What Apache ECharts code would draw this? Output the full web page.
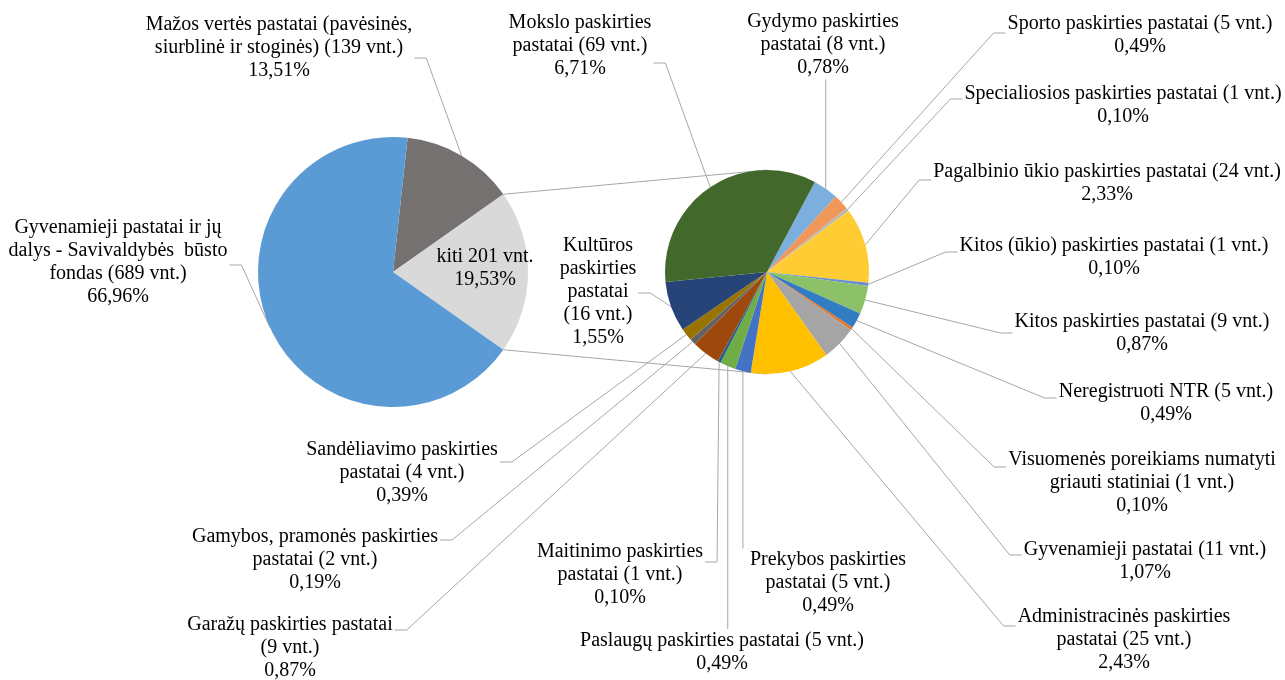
<!DOCTYPE html>
<html>
<head>
<meta charset="utf-8">
<script src="https://cdn.jsdelivr.net/npm/echarts@6/dist/echarts.min.js"></script>
<style>
  html, body { margin: 0; padding: 0; background: #fff; }
  #main { width: 1285px; height: 680px; }
</style>
</head>
<body>
<div id="main"></div>
<script>
// pagrindinis skritulys
var mainNames = [
  'Mažos vertės pastatai (pavėsinės,\nsiurblinė ir stoginės) ({n} vnt.)',
  'kiti {n} vnt.',
  'Gyvenamieji pastatai ir jų\ndalys - Savivaldybės  būsto\nfondas ({n} vnt.)'
];
var mainValues = [139, 201, 689];
var mainColors = ['#767171', '#D9D9D9', '#5B9BD5'];

// "kiti" išskaidymas (antras skritulys)
var otherNames = [
  'Gydymo paskirties\npastatai ({n} vnt.)',
  'Sporto paskirties pastatai ({n} vnt.)',
  'Specialiosios paskirties pastatai ({n} vnt.)',
  'Pagalbinio ūkio paskirties pastatai ({n} vnt.)',
  'Kitos (ūkio) paskirties pastatai ({n} vnt.)',
  'Kitos paskirties pastatai ({n} vnt.)',
  'Neregistruoti NTR ({n} vnt.)',
  'Visuomenės poreikiams numatyti\ngriauti statiniai ({n} vnt.)',
  'Gyvenamieji pastatai ({n} vnt.)',
  'Administracinės paskirties\npastatai ({n} vnt.)',
  'Prekybos paskirties\npastatai ({n} vnt.)',
  'Paslaugų paskirties pastatai ({n} vnt.)',
  'Maitinimo paskirties\npastatai ({n} vnt.)',
  'Garažų paskirties pastatai\n({n} vnt.)',
  'Gamybos, pramonės paskirties\npastatai ({n} vnt.)',
  'Sandėliavimo paskirties\npastatai ({n} vnt.)',
  'Kultūros\npaskirties\npastatai\n({n} vnt.)',
  'Mokslo paskirties\npastatai ({n} vnt.)'
];
var otherValues = [8, 5, 1, 24, 1, 9, 5, 1, 11, 25, 5, 5, 1, 9, 2, 4, 16, 69];
var otherColors = ['#7CAFDD', '#F1975A', '#B7B7B7', '#FFCD33', '#698ED0', '#8CC168',
  '#327DC2', '#E5762A', '#A5A5A5', '#FFC000', '#4472C4', '#70AD47',
  '#255E91', '#9E480E', '#636363', '#997300', '#264478', '#43682B'];

// etikečių vietos: [x, y, pusė, linijos dy]
var mainLabelPos = [[279, 48, 'r', 10], [485, 268, 'in', 0], [118, 262, 'r', 3]];
var otherLabelPos = [
  [823, 45, 'b', 0], [1140, 35, 'l', -2], [1123, 105, 'l', -6], [1107, 183, 'l', -3],
  [1114, 257, 'l', -5], [1142, 333, 'l', 0], [1166, 403, 'l', -5], [1142, 483, 'l', -16],
  [1145, 561, 'l', -6], [1124, 640, 'l', -14], [828, 583, 't', 0], [722, 652, 't', 0],
  [620, 575, 'r', -13], [290, 648, 'r', -18], [315, 560, 'r', -20], [402, 473, 'r', -11],
  [598, 292, 'r', 1], [580, 46, 'r', 17]
];

var total = mainValues.reduce(function (a, b) { return a + b; }, 0);
var leftC = [393, 272], leftR = 135;
var rightC = [767, 272], rightR = 102;
// "kiti" dalis centruojama ties 3 val.
var leftStart = (mainValues[0] + mainValues[1] / 2) / total * 360;
var rightStart = 62;

function pct(v) {
  return (v / total * 100).toFixed(2).replace('.', ',') + '%';
}

function items(names, values, colors) {
  return values.map(function (v, i) {
    return { name: names[i].replace('{n}', v), value: v, itemStyle: { color: colors[i] } };
  });
}

function layoutFor(pos) {
  return function (p) {
    var c = pos[p.dataIndex];
    var res = { x: c[0], y: c[1], align: 'center', verticalAlign: 'middle' };
    if (c[2] === 'in' || !p.labelLinePoints) return res;
    var a = p.labelLinePoints[0];
    var w = p.labelRect.width, h = p.labelRect.height;
    var left = c[0] - w / 2, right = c[0] + w / 2, top = c[1] - h / 2, bottom = c[1] + h / 2;
    var y = c[1] + c[3];
    var pts;
    if (c[2] === 'l') pts = [a, [left - 14, y], [left - 2, y]];
    else if (c[2] === 'r') pts = [a, [right + 14, y], [right + 2, y]];
    else if (c[2] === 't') pts = [a, [a[0], top], [a[0], top]];
    else pts = [a, [a[0], bottom], [a[0], bottom]];
    res.labelLinePoints = pts;
    return res;
  };
}

var labelStyle = {
  show: true,
  position: 'outside',
  fontFamily: 'Liberation Serif',
  fontSize: 20,
  lineHeight: 23,
  color: '#000'
};
var lineStyle = { show: true, length: 10, length2: 10, lineStyle: { color: '#A6A6A6', width: 1 } };

var mainData = items(mainNames, mainValues, mainColors);
mainData[1].labelLine = { show: false };

var myChart = echarts.init(document.getElementById('main'));

// jungiamosios linijos tarp skritulių
var a1 = (-leftStart + mainValues[0] / total * 360) * Math.PI / 180;
var a2 = a1 + mainValues[1] / total * 360 * Math.PI / 180;
var p1 = [leftC[0] + leftR * Math.cos(a1), leftC[1] + leftR * Math.sin(a1)];
var p2 = [leftC[0] + leftR * Math.cos(a2), leftC[1] + leftR * Math.sin(a2)];

var option = {
  animation: false,
  graphic: [
    { type: 'line', z: 0, shape: { x1: p1[0], y1: p1[1], x2: rightC[0], y2: rightC[1] - rightR }, style: { stroke: '#A6A6A6', lineWidth: 1 } },
    { type: 'line', z: 0, shape: { x1: p2[0], y1: p2[1], x2: rightC[0], y2: rightC[1] + rightR }, style: { stroke: '#A6A6A6', lineWidth: 1 } }
  ],
  series: [
    {
      type: 'pie',
      center: leftC,
      radius: leftR,
      startAngle: leftStart,
      clockwise: true,
      avoidLabelOverlap: false,
      z: 3,
      label: Object.assign({}, labelStyle, {
        formatter: function (p) { return mainNames[p.dataIndex].replace('{n}', p.value) + '\n' + pct(p.value); }
      }),
      labelLine: lineStyle,
      labelLayout: layoutFor(mainLabelPos),
      emphasis: { disabled: true },
      data: mainData
    },
    {
      type: 'pie',
      center: rightC,
      radius: rightR,
      startAngle: rightStart,
      clockwise: true,
      avoidLabelOverlap: false,
      z: 3,
      label: Object.assign({}, labelStyle, {
        formatter: function (p) { return otherNames[p.dataIndex].replace('{n}', p.value) + '\n' + pct(p.value); }
      }),
      labelLine: lineStyle,
      labelLayout: layoutFor(otherLabelPos),
      emphasis: { disabled: true },
      data: items(otherNames, otherValues, otherColors)
    }
  ]
};
option && myChart.setOption(option);
</script>
</body>
</html>
